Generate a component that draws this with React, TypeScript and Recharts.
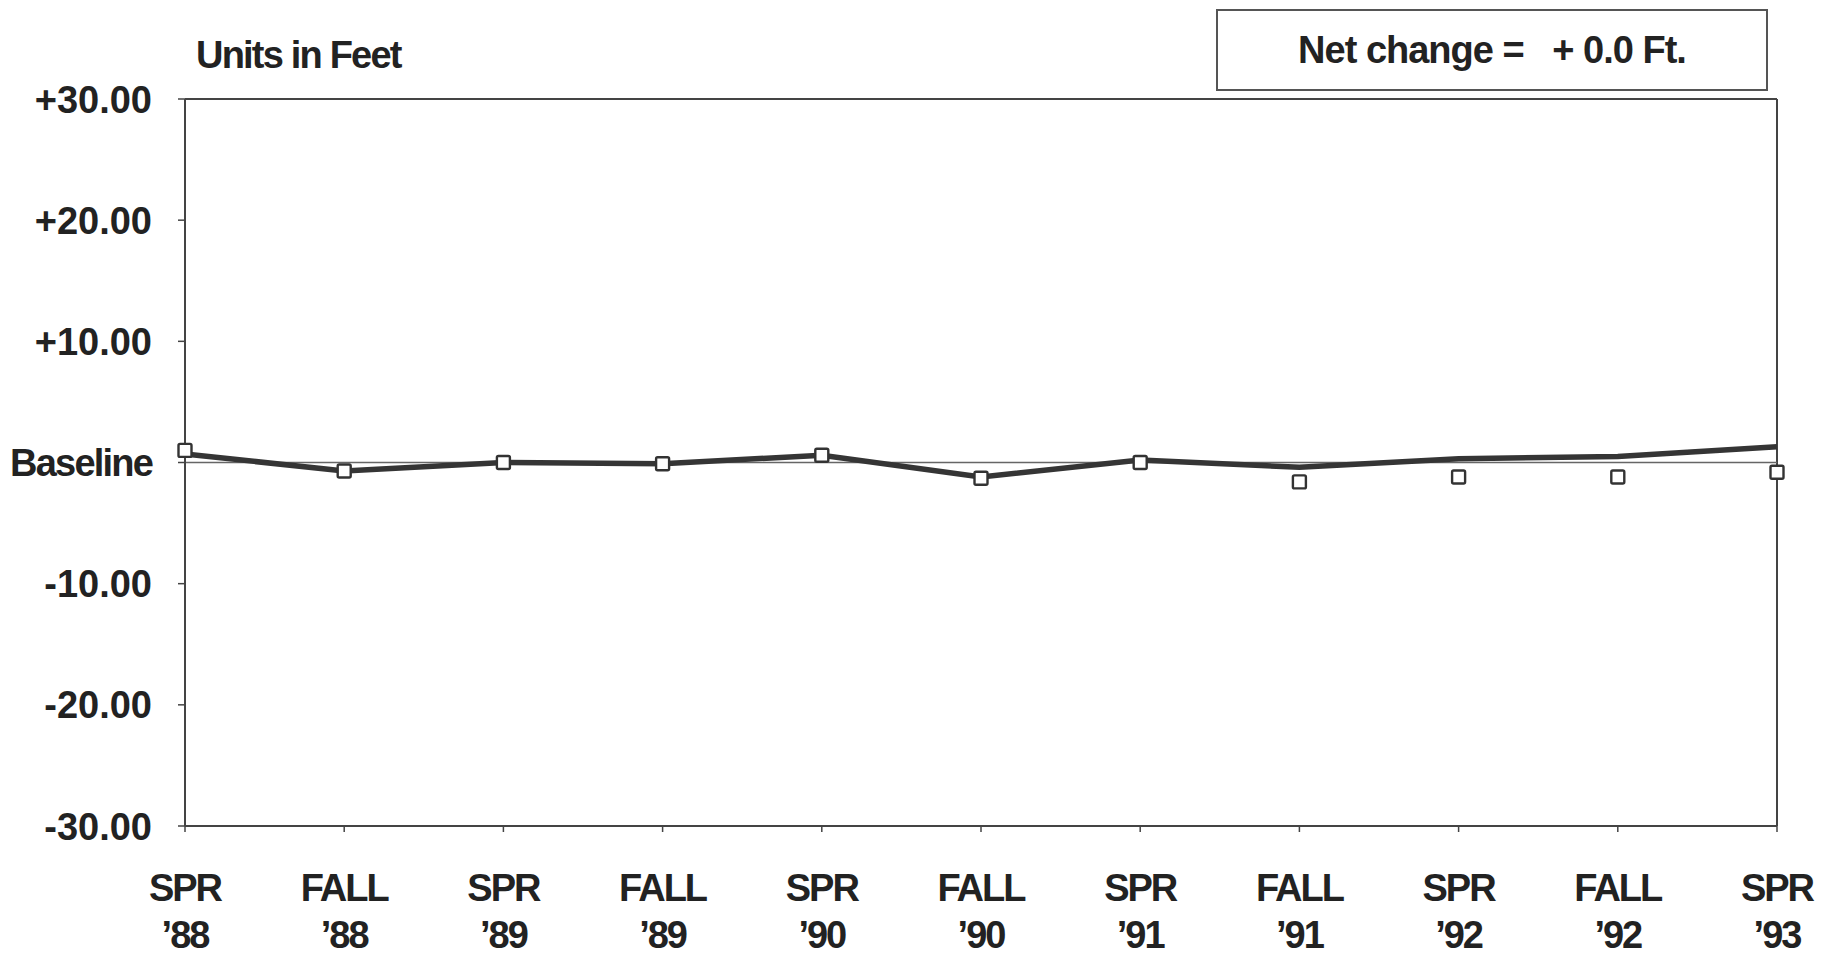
import React from "react";
import {
  LineChart, Line, XAxis, YAxis, ReferenceLine,
} from "recharts";

const periods = [
  "SPR '88", "FALL '88", "SPR '89", "FALL '89", "SPR '90", "FALL '90",
  "SPR '91", "FALL '91", "SPR '92", "FALL '92", "SPR '93",
];
const seasons = ["SPR", "FALL", "SPR", "FALL", "SPR", "FALL", "SPR", "FALL", "SPR", "FALL", "SPR"];
const years = ["’88", "’88", "’89", "’89", "’90", "’90", "’91", "’91", "’92", "’92", "’93"];

// thick profile line and the square survey markers (scan has them slightly apart)
const lineValues = [0.7, -0.7, 0.0, -0.1, 0.6, -1.2, 0.2, -0.4, 0.3, 0.5, 1.3];
const markerValues = [1.0, -0.7, 0.0, -0.1, 0.6, -1.3, 0.0, -1.6, -1.2, -1.2, -0.8];

const yTicks = [-30, -20, -10, 0, 10, 20, 30];
const yTickLabels = ["-30.00", "-20.00", "-10.00", "Baseline", "+10.00", "+20.00", "+30.00"];

const data = periods.map((p, i) => ({ period: p, line: lineValues[i], marker: markerValues[i] }));

const FONT = "'Liberation Sans', Arial, Helvetica, sans-serif";
const INK = "#222";
const AXIS = "#444";

const YTick = ({ x, y, payload }: any) => {
  const idx = yTicks.indexOf(payload.value);
  const label = yTickLabels[idx];
  const isWord = label === "Baseline";
  return (
    <text x={x - 24} y={y} dy={13.6} textAnchor="end" fill={INK}
      fontFamily={FONT} fontWeight={700} fontSize={38} letterSpacing={isWord ? -1.8 : 0}>
      {label}
    </text>
  );
};

const XTick = ({ x, y, payload }: any) => {
  const idx = periods.indexOf(payload.value);
  return (
    <g>
      <text x={x} y={y + 67} textAnchor="middle" fill={INK}
        fontFamily={FONT} fontWeight={700} fontSize={38} letterSpacing={-2}>
        {seasons[idx]}
      </text>
      <text x={x} y={y + 114} textAnchor="middle" fill={INK}
        fontFamily={FONT} fontWeight={700} fontSize={38} letterSpacing={-2}>
        {years[idx]}
      </text>
    </g>
  );
};

const SquareDot = ({ cx, cy, index }: any) => (
  <rect key={`sq-${index}`} x={cx - 6.5} y={cy - 6.5} width={13} height={13}
    fill="#fff" stroke="#333" strokeWidth={2.4} rx={1.5} />
);

export default function App() {
  return (
    <div style={{ position: "relative", width: 1825, height: 949 }}>
      <LineChart
        width={1825}
        height={949}
        data={data}
        margin={{ top: 91, right: 56, bottom: 0, left: 0 }}
      >
        <XAxis
          dataKey="period"
          height={131}
          tick={<XTick />}
          tickSize={6}
          tickMargin={2}
          interval={0}
          axisLine={{ stroke: AXIS, strokeWidth: 2 }}
          tickLine={{ stroke: AXIS, strokeWidth: 1.5 }}
        />
        <YAxis
          type="number"
          domain={[-30, 30]}
          ticks={yTicks}
          width={177}
          tick={<YTick />}
          tickSize={7}
          tickMargin={2}
          axisLine={{ stroke: AXIS, strokeWidth: 2 }}
          tickLine={{ stroke: AXIS, strokeWidth: 1.5 }}
        />
        <ReferenceLine y={30} stroke={AXIS} strokeWidth={2} />
        <ReferenceLine x="SPR '93" stroke={AXIS} strokeWidth={2} />
        <ReferenceLine y={0} stroke="#666" strokeWidth={1.5} />
        <Line
          type="linear"
          dataKey="line"
          stroke="#353535"
          strokeWidth={5.5}
          dot={false}
          isAnimationActive={false}
        />
        <Line
          type="linear"
          dataKey="marker"
          stroke="none"
          dot={<SquareDot />}
          activeDot={false}
          isAnimationActive={false}
        />
      </LineChart>
      <div
        style={{
          position: "absolute", left: 188, top: 28, fontFamily: FONT, fontWeight: 700,
          fontSize: 38, lineHeight: "38px", letterSpacing: -1.8, color: INK, whiteSpace: "pre",
        }}
      >
        Units in Feet
      </div>
      <div
        style={{
          position: "absolute", left: 1208, top: 1, width: 552, height: 82, boxSizing: "border-box",
          border: "2px solid #555", display: "flex", alignItems: "center", justifyContent: "center",
          fontFamily: FONT, fontWeight: 700, fontSize: 38, lineHeight: "38px", letterSpacing: -1,
          color: INK, whiteSpace: "pre", background: "#fff",
        }}
      >
        {"Net change =   + 0.0 Ft."}
      </div>
    </div>
  );
}
